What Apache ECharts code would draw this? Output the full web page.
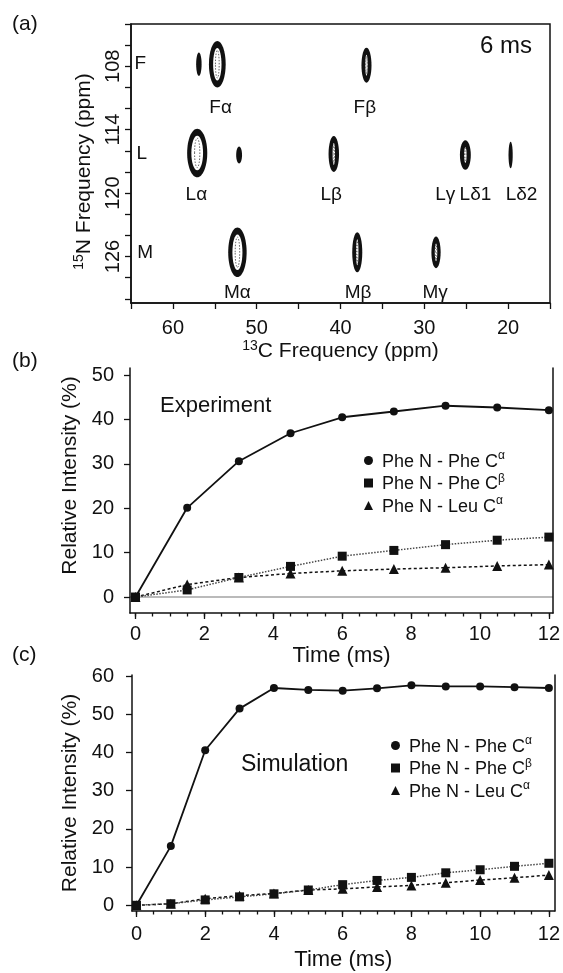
<!DOCTYPE html>
<html><head><meta charset="utf-8">
<script src="https://cdn.jsdelivr.net/npm/echarts@6/dist/echarts.min.js"></script>
<style>html,body{margin:0;padding:0;background:#fff}#c{width:563px;height:973px}</style>
</head><body><div id="c"></div>
<script>
// ---------- Panel (a): 2D correlation peaks ----------
const peakC      = [56.9, 54.7, 36.9, 57.1, 52.1, 40.8, 25.1, 19.7, 52.3, 38.0, 28.6]; // 13C ppm
const peakN      = [107.8, 107.8, 107.9, 116.2, 116.4, 116.3, 116.4, 116.4, 125.6, 125.6, 125.6]; // 15N ppm
const peakWidthC = [0.65, 2.0, 1.2, 2.4, 0.7, 1.25, 1.3, 0.5, 2.2, 1.2, 1.1]; // linewidth ppm
const peakWidthN = [2.2, 4.4, 3.3, 4.6, 1.6, 3.4, 2.8, 2.5, 4.7, 3.8, 3.0];
const peakLabels = ['Fα','Fβ','Lα','Lβ','Lγ','Lδ1','Lδ2','Mα','Mβ','Mγ'];
const peakLabelC = [54.3, 37.1, 57.2, 41.1, 27.5, 23.9, 18.4, 52.3, 37.9, 28.7];
const peakLabelN = [111.9, 111.9, 120.2, 120.2, 120.2, 120.2, 120.2, 129.4, 129.4, 129.4];
const residueLabels = ['F','L','M'];
const residueC = [63.9, 63.7, 63.3];
const residueN = [107.8, 116.3, 125.6];
const cTickValues  = [15,20,25,30,35,40,45,50,55,60,65];
const cLabelValues = [20,30,40,50,60];
const nTickValues  = [104,106,108,110,112,114,116,118,120,122,124,126,128,130];
const nLabelValues = [108,114,120,126];

// ---------- Panel (b): experiment ----------
const expTime  = [0, 1.5, 3, 4.5, 6, 7.5, 9, 10.5, 12];
const expPheCa = [0, 20.1, 30.6, 36.9, 40.5, 41.8, 43.1, 42.7, 42.1];
const expPheCb = [0, 1.6, 4.4, 6.9, 9.2, 10.5, 11.8, 12.8, 13.5];
const expLeuCa = [0, 2.8, 4.4, 5.3, 5.9, 6.3, 6.6, 7.0, 7.3];
const expYTicks = [0,10,20,30,40,50];
const expBaseline = [0];

// ---------- Panel (c): simulation ----------
const simTime  = [0,1,2,3,4,5,6,7,8,9,10,11,12];
const simPheCa = [0, 15.5, 40.6, 51.5, 56.9, 56.4, 56.2, 56.8, 57.6, 57.3, 57.3, 57.1, 56.9];
const simPheCb = [0, 0.4, 1.4, 2.2, 3.0, 4.0, 5.4, 6.5, 7.3, 8.5, 9.3, 10.2, 11.0];
const simLeuCa = [0, 0.4, 1.7, 2.5, 3.1, 4.0, 4.3, 4.8, 5.2, 5.9, 6.6, 7.2, 7.9];
const simYTicks = [0,10,20,30,40,50,60];

const timeTicks = [0,2,4,6,8,10,12];
const timeMinorTicks = [0,0.5,1,1.5,2,2.5,3,3.5,4,4.5,5,5.5,6,6.5,7,7.5,8,8.5,9,9.5,10,10.5,11,11.5,12];

const legendBase = ['Phe N - Phe C','Phe N - Phe C','Phe N - Leu C'];
const legendSup  = ['α','β','α'];
const seriesNames = legendBase.map((b,i)=>b+legendSup[i]);
const legendIcons = ['circle','rect','triangle'];

const FONT = 'Liberation Sans, Arial, Helvetica, sans-serif';
const BLACK = '#111';

const chart = echarts.init(document.getElementById('c'), null, {renderer:'canvas'});

function zip(a,b){ return a.map((v,i)=>[v,b[i]]); }

const peakData = peakC.map((c,i)=>[c, peakN[i], peakWidthC[i], peakWidthN[i]]);
const labelData = peakLabels.map((t,i)=>({name:t, value:[peakLabelC[i], peakLabelN[i]]}))
  .concat(residueLabels.map((t,i)=>({name:t, value:[residueC[i], residueN[i]]})));

function renderPeak(params, api){
  const x = api.value(0), y = api.value(1);
  const c = api.coord([x, y]);
  const s = api.size([api.value(2), api.value(3)], [x, y]);
  const rx = Math.abs(s[0])/2, ry = Math.abs(s[1])/2;
  const ch = [{type:'ellipse', shape:{cx:c[0],cy:c[1],rx:rx,ry:ry}, style:{fill:BLACK}}];
  if (rx > 3.8) {
    const irx = Math.max(rx-4.2, 1.2), iry = Math.max(ry-7, 2);
    ch.push({type:'ellipse', shape:{cx:c[0],cy:c[1],rx:irx,ry:iry}, style:{fill:'#fff'}});
    ch.push({type:'ellipse', shape:{cx:c[0],cy:c[1],rx:Math.max(irx*0.45,0.8),ry:iry*0.85},
      style:{fill:'none', stroke:'#666', lineWidth:1, lineDash:[1.5,1.5]}});
  }
  return {type:'group', children:ch};
}
function renderLabel(params, api){
  const c = api.coord([api.value(0), api.value(1)]);
  return {type:'text', x:c[0], y:c[1],
    style:{text:labelData[params.dataIndex].name, fill:BLACK, font:'19px '+FONT,
           align:'center', verticalAlign:'middle'}};
}
function renderBaseline(params, api){
  const cs = params.coordSys;
  const y = api.coord([0, api.value(0)])[1];
  return {type:'line', shape:{x1:cs.x, y1:y, x2:cs.x+cs.width, y2:y},
    style:{stroke:'#777', lineWidth:1.2}};
}

const axisLineBlack = {show:true, onZero:false, lineStyle:{color:BLACK, width:1.5}};
const tickStyle = {color:BLACK, width:1.3};
const labelFont = {color:BLACK, fontFamily:FONT, fontSize:20};
const nameRich = {
  sup:{fontSize:14, fontFamily:FONT, color:BLACK, verticalAlign:'top', lineHeight:14},
  n:{fontSize:21, fontFamily:FONT, color:BLACK, lineHeight:23, verticalAlign:'bottom'},
  gap:{width:16}
};

function legendFormatter(name){
  const i = seriesNames.indexOf(name);
  return '{n|' + legendBase[i] + '}{s|' + legendSup[i] + '}';
}
const legendRich = {
  n:{fontSize:18, fontFamily:FONT, color:BLACK, lineHeight:21, verticalAlign:'bottom'},
  s:{fontSize:12, fontFamily:FONT, color:BLACK, lineHeight:12, verticalAlign:'top'}
};
function legendFor(left, top){
  return {
    orient:'vertical', left:left, top:top, itemWidth:9, itemHeight:9, itemGap:1.5,
    selectedMode:false, data: seriesNames.map((n,i)=>({name:n, icon:legendIcons[i]})),
    formatter: legendFormatter, textStyle:{rich:legendRich, padding:[0,0,0,4]}
  };
}

function timeSeries(names, xs, ys, xi, yi){
  const symbols = ['circle','rect','triangle'];
  const sizes = [8, 9, 10];
  const lines = [
    {color:BLACK, width:1.8, type:'solid'},
    {color:'#444', width:1.5, type:'dotted'},
    {color:BLACK, width:1.5, type:[3,2.5]}
  ];
  return ys.map((y,i)=>({
      name:names[i], type:'line', xAxisIndex:xi, yAxisIndex:yi, data:zip(xs,y),
      symbol:symbols[i], symbolSize:sizes[i], showSymbol:true,
      itemStyle:{color:BLACK}, lineStyle:lines[i], z: 3 - i, animation:false
  }));
}

const option = {
  backgroundColor:'#fff',
  animation:false,
  textStyle:{fontFamily:FONT},
  grid:[
    {left:131, top:24, width:419, height:279, show:true, borderColor:BLACK, borderWidth:1.5, backgroundColor:'transparent'},
    {left:130, top:368, width:425, height:245},
    {left:132, top:675, width:423, height:236}
  ],
  legend:[legendFor(359, 445), legendFor(386, 730)],
  xAxis:[
    {gridIndex:0, type:'value', position:'bottom', min:15, max:65, inverse:true,
     axisLine:axisLineBlack, splitLine:{show:false},
     axisTick:{show:true, inside:false, length:6, lineStyle:tickStyle, customValues:cTickValues},
     axisLabel:Object.assign({margin:15, customValues:cLabelValues}, labelFont),
     name:'{sup|13}{n|C Frequency (ppm)}', nameLocation:'middle', nameGap:34,
     nameTextStyle:{rich:nameRich}},
    {gridIndex:1, type:'value', position:'bottom', min:-0.16, max:12.12,
     axisLine:axisLineBlack, splitLine:{show:false},
     axisTick:{show:true, length:6, lineStyle:tickStyle, customValues:timeTicks},
     axisLabel:Object.assign({margin:11, customValues:timeTicks}, labelFont),
     name:'Time (ms)', nameLocation:'middle', nameGap:31,
     nameTextStyle:{fontSize:22, fontFamily:FONT, color:BLACK}},
    {gridIndex:1, type:'value', position:'bottom', min:-0.16, max:12.12,
     axisLine:{show:false, onZero:false}, splitLine:{show:false}, axisLabel:{show:false},
     axisTick:{show:true, length:3.5, lineStyle:tickStyle, customValues:timeMinorTicks}},
    {gridIndex:2, type:'value', position:'bottom', min:-0.13, max:12.17,
     axisLine:axisLineBlack, splitLine:{show:false},
     axisTick:{show:true, length:6, lineStyle:tickStyle, customValues:timeTicks},
     axisLabel:Object.assign({margin:13, customValues:timeTicks}, labelFont),
     name:'Time (ms)', nameLocation:'middle', nameGap:38,
     nameTextStyle:{fontSize:22, fontFamily:FONT, color:BLACK}},
    {gridIndex:2, type:'value', position:'bottom', min:-0.13, max:12.17,
     axisLine:{show:false, onZero:false}, splitLine:{show:false}, axisLabel:{show:false},
     axisTick:{show:true, length:3.5, lineStyle:tickStyle, customValues:timeMinorTicks}}
  ],
  yAxis:[
    {gridIndex:0, type:'value', position:'left', min:104, max:130.4, inverse:true,
     axisLine:axisLineBlack, splitLine:{show:false},
     axisTick:{show:true, length:6, lineStyle:tickStyle, customValues:nTickValues},
     axisLabel:Object.assign({margin:8, rotate:90, customValues:nLabelValues}, labelFont),
     name:'{sup|15}{n|N Frequency (ppm)}{gap|}', nameLocation:'middle', nameGap:36,
     nameTextStyle:{rich:nameRich}},
    {gridIndex:1, type:'value', position:'left', min:-3.6, max:51.6,
     axisLine:axisLineBlack, splitLine:{show:false},
     axisTick:{show:true, length:6, lineStyle:tickStyle, customValues:expYTicks},
     axisLabel:Object.assign({margin:16, customValues:expYTicks}, labelFont),
     name:'Relative Intensity (%)', nameLocation:'middle', nameGap:46,
     nameTextStyle:{fontSize:21, fontFamily:FONT, color:BLACK, padding:[0,0,0,30]}},
    {gridIndex:1, type:'value', position:'right', min:-3.6, max:51.6,
     axisLine:axisLineBlack, splitLine:{show:false}, axisTick:{show:false}, axisLabel:{show:false}},
    {gridIndex:2, type:'value', position:'left', min:-1.5, max:60.3,
     axisLine:axisLineBlack, splitLine:{show:false},
     axisTick:{show:true, length:6, lineStyle:tickStyle, customValues:simYTicks},
     axisLabel:Object.assign({margin:18, customValues:simYTicks}, labelFont),
     name:'Relative Intensity (%)', nameLocation:'middle', nameGap:48,
     nameTextStyle:{fontSize:21, fontFamily:FONT, color:BLACK}},
    {gridIndex:2, type:'value', position:'right', min:-1.5, max:60.3,
     axisLine:axisLineBlack, splitLine:{show:false}, axisTick:{show:false}, axisLabel:{show:false}}
  ],
  graphic:[
    {type:'text', left:12, top:14, style:{text:'(a)', font:'21px '+FONT, fill:BLACK}},
    {type:'text', left:12, top:351, style:{text:'(b)', font:'21px '+FONT, fill:BLACK}},
    {type:'text', left:12, top:645, style:{text:'(c)', font:'21px '+FONT, fill:BLACK}},
    {type:'text', left:480, top:34, style:{text:'6 ms', font:'24px '+FONT, fill:BLACK}},
    {type:'text', left:160, top:395, style:{text:'Experiment', font:'22px '+FONT, fill:BLACK}},
    {type:'text', left:241, top:753, style:{text:'Simulation', font:'23px '+FONT, fill:BLACK}}
  ],
  series:[
    {type:'custom', xAxisIndex:0, yAxisIndex:0, renderItem:renderPeak, data:peakData, silent:true, clip:false},
    {type:'custom', xAxisIndex:0, yAxisIndex:0, renderItem:renderLabel,
     data:labelData.map(d=>d.value), silent:true, clip:false},
    {type:'custom', xAxisIndex:1, yAxisIndex:1, renderItem:renderBaseline,
     data:expBaseline.map(v=>[v]), encode:{y:0}, silent:true, clip:false, z:0}
  ]
  .concat(timeSeries(seriesNames, expTime, [expPheCa, expPheCb, expLeuCa], 1, 1))
  .concat(timeSeries(seriesNames, simTime, [simPheCa, simPheCb, simLeuCa], 3, 3))
};
chart.setOption(option);
</script></body></html>
